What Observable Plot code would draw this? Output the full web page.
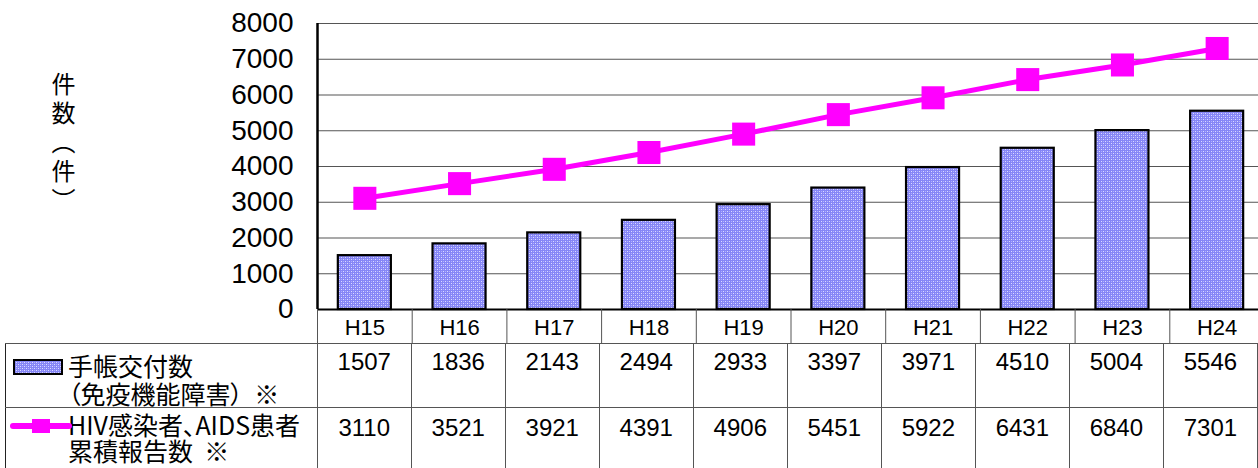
<!DOCTYPE html>
<html><head><meta charset="utf-8">
<script src="https://cdn.jsdelivr.net/npm/d3@7"></script>
<script src="https://cdn.jsdelivr.net/npm/@observablehq/plot@0.6"></script>
<style>
body{margin:0;background:#fff;}
#wrap{position:relative;width:1258px;height:468px;overflow:hidden;font-family:"Liberation Sans","Noto Sans CJK JP",sans-serif;color:#000;}
#ytitle{position:absolute;left:49px;top:72px;writing-mode:vertical-rl;text-orientation:mixed;font-family:"Noto Sans CJK JP",sans-serif;font-size:24px;letter-spacing:5px;line-height:28px;}
#tbl{position:absolute;left:5px;top:343px;border-collapse:collapse;table-layout:fixed;}
#tbl td{border:1px solid #555;padding:0;vertical-align:top;}
#tbl tr:first-child td{border-top:1.5px solid #222;}
#tbl td.lab{border-left:1.5px solid #222;position:relative;padding-left:62px;font-family:"Noto Sans CJK JP",sans-serif;font-size:25px;font-feature-settings:"palt";white-space:pre;}
#tbl td.val{text-align:center;font-size:24px;line-height:26px;}
.icon{position:absolute;left:7px;}
</style></head><body><div id="wrap"></div>
<script>
const categories = ["H15","H16","H17","H18","H19","H20","H21","H22","H23","H24"];
const techoCounts = [1507,1836,2143,2494,2933,3397,3971,4510,5004,5546];
const hivCounts = [3110,3521,3921,4391,4906,5451,5922,6431,6840,7301];
const yTicks = [0,1000,2000,3000,4000,5000,6000,7000,8000];
const techoLabel = ["手帳交付数","（免疫機能障害）  ※"];
const hivLabel = ["HIV感染者、AIDS患者","累積報告数  ※"];
const yTitle = "件数（件）";

const data = categories.map((c,i)=>({cat:c, techo:techoCounts[i], hiv:hivCounts[i]}));
const W = 1264, left = 317, H = 343, mTop = 23, mBottom = 34;
const step = (W - left) / categories.length;
const frameH = H - mTop - mBottom;
const magenta = "#ff00ff";

const chart = Plot.plot({
  width: W, height: H,
  marginTop: mTop, marginBottom: mBottom, marginLeft: left, marginRight: 0,
  style: {fontFamily: "'Liberation Sans','Noto Sans CJK JP',sans-serif", color: "#000", background: "transparent", overflow: "visible"},
  x: {domain: categories, paddingInner: 0.44, paddingOuter: 0.22, round: false, label: null},
  y: {domain: [0, 8000], label: null},
  marks: [
    Plot.gridY(yTicks, {stroke: "#555", strokeOpacity: 1, strokeWidth: 1.2}),
    Plot.barY(data, {x: "cat", y: "techo", fill: "url(#dotpat)", stroke: "#000", strokeWidth: 2.2}),
    Plot.lineY(data, {x: "cat", y: "hiv", stroke: magenta, strokeWidth: 5}),
    Plot.dot(data, {x: "cat", y: "hiv", symbol: "square", r: 13, fill: magenta, stroke: "none"}),
    Plot.ruleY([0], {stroke: "#000", strokeWidth: 2}),
    Plot.ruleX(categories, {x: d => d, dx: -step / 2, insetTop: frameH, insetBottom: -mBottom, stroke: "#555"}),
    Plot.ruleX([categories[0]], {x: d => d, dx: -step / 2, stroke: "#000", strokeWidth: 2.5}),
    Plot.axisY(yTicks, {tickSize: 0, tickPadding: 24, fontSize: 28, tickFormat: d => String(d)}),
    Plot.axisX({tickSize: 0, tickPadding: 10, fontSize: 22})
  ]
});

const ns = "http://www.w3.org/2000/svg";
const defs = document.createElementNS(ns, "defs");
defs.innerHTML = `<pattern id="dotpat" width="4" height="4" patternUnits="userSpaceOnUse"><rect width="4" height="4" fill="#8686f6"/><rect width="1" height="1" x="1" y="1" fill="#dcdcff"/><rect width="1" height="1" x="3" y="3" fill="#dcdcff"/><rect width="1" height="1" x="3" y="1" fill="#b0b0ff"/><rect width="1" height="1" x="1" y="3" fill="#b0b0ff"/></pattern>`;
chart.insertBefore(defs, chart.firstChild);

const wrap = document.getElementById("wrap");
wrap.appendChild(chart);
chart.style.position = "absolute"; chart.style.left = "0"; chart.style.top = "0";
chart.style.maxWidth = "none"; chart.style.width = W + "px"; chart.style.height = H + "px";

// vertical axis title (vertical writing mode)
const yt = document.createElement("div");
yt.id = "ytitle"; yt.textContent = yTitle;
wrap.appendChild(yt);

// data table below the chart
const tbl = document.createElement("table");
tbl.id = "tbl";
const cg = document.createElement("colgroup");
const c0 = document.createElement("col"); c0.style.width = (left - 5) + "px"; cg.appendChild(c0);
categories.forEach(() => { const c = document.createElement("col"); c.style.width = step + "px"; cg.appendChild(c); });
tbl.appendChild(cg);

function addRow(labelLines, values, iconSvg, rowH, padTop, labPad, labLH) {
  const tr = document.createElement("tr");
  tr.style.height = rowH + "px";
  const td = document.createElement("td");
  td.className = "lab";
  td.style.paddingTop = labPad + "px";
  td.style.lineHeight = labLH + "px";
  td.innerHTML = iconSvg + labelLines.join("\n");
  tr.appendChild(td);
  values.forEach(v => {
    const c = document.createElement("td");
    c.className = "val";
    c.style.paddingTop = padTop + "px";
    c.textContent = v;
    tr.appendChild(c);
  });
  tbl.appendChild(tr);
}
const barIcon = `<svg class="icon" style="top:15px" width="50" height="16"><rect x="1" y="1" width="48" height="14" fill="url(#dotpat)" stroke="#000" stroke-width="2"/></svg>`;
const lineIcon = `<svg class="icon" style="top:8px;left:4px" width="62" height="20"><line x1="3" y1="10" x2="59" y2="10" stroke="${magenta}" stroke-width="6" stroke-linecap="round"/><rect x="22" y="3" width="18" height="14" fill="${magenta}"/></svg>`;
addRow(techoLabel, techoCounts, barIcon, 62, 5, 7, 28);
addRow(hivLabel, hivCounts, lineIcon, 61, 7, 3, 26);
wrap.appendChild(tbl);
</script>
</body></html>
